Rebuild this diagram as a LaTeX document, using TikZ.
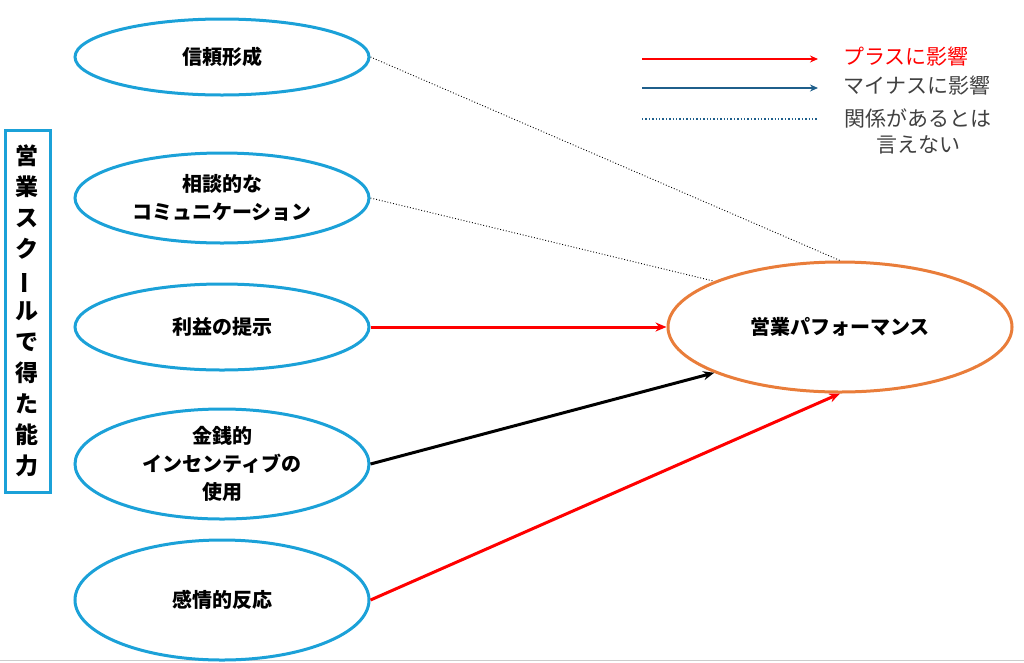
\documentclass[tikz,border=0pt]{standalone}
\usepackage{fontspec}
\setmainfont{Noto Sans CJK JP}
\usetikzlibrary{shapes.geometric,arrows.meta}
\definecolor{ebl}{HTML}{1BA1D8}
\definecolor{eor}{HTML}{E97D3A}
\definecolor{lblue}{HTML}{1F5F8B}
\tikzset{
 lel/.style={ellipse,draw=ebl,line width=3pt,minimum width=294pt,align=center,inner sep=0pt,font=\bfseries\fontsize{20}{28}\selectfont},
 dotc/.style={black,dotted,line width=0.9pt},
 redc/.style={red,line width=3pt,-{Stealth[length=11pt,width=9pt]}},
 blkc/.style={black,line width=3pt,-{Stealth[length=11pt,width=9pt]}},
 leg/.style={font=\fontsize{21}{26}\selectfont,align=center}
}
\begin{document}
\begin{tikzpicture}[x=1pt,y=-1pt]
\useasboundingbox (0,0) rectangle (1024,662);
\draw[gray!40,line width=1pt] (0,660) -- (1024,660);
\node[lel,minimum height=76pt] (a) at (222,57) {信頼形成};
\node[lel,minimum height=90pt] (b) at (222,198) {相談的な\\コミュニケーション};
\node[lel,minimum height=86pt] (c) at (222,327) {利益の提示};
\node[lel,minimum height=110pt] (d) at (222,464) {金銭的\\インセンティブの\\使用};
\node[lel,minimum height=120pt] (e) at (222,600) {感情的反応};
\node[ellipse,draw=eor,line width=3pt,minimum width=344pt,minimum height=130pt,inner sep=0pt,font=\bfseries\fontsize{20}{28}\selectfont] (r) at (840,327) {営業パフォーマンス};
\node[draw=ebl,line width=3pt,minimum width=45pt,minimum height=362pt,font=\bfseries\fontsize{23}{31}\selectfont,align=center,inner sep=0pt] (box) at (27.5,311) {営\\業\\ス\\ク\\\rotatebox[origin=c]{90}{ー}\\ル\\で\\得\\た\\能\\力};
\draw[dotc] (a.east) -- (r.north);
\draw[dotc] (b.east) -- (r.160);
\draw[redc] (c.east) -- (r.west);
\draw[blkc] (d.east) -- (r.200);
\draw[redc] (e.east) -- (r.south);
\coordinate (l1) at (642,59); \coordinate (l1e) at (818,59);
\coordinate (l2) at (642,88); \coordinate (l2e) at (818,88);
\coordinate (l3) at (642,119); \coordinate (l3e) at (818,119);
\draw[red,line width=2.5pt,-{Stealth[length=8pt,width=7pt]}] (l1) -- (l1e);
\draw[lblue,line width=1.8pt,-{Stealth[length=8pt,width=7pt]}] (l2) -- (l2e);
\draw[lblue,dotted,line width=1.4pt] (l3) -- (l3e);
\node[leg,text=red] (t1) at (906,57) {プラスに影響};
\node[leg,text=black!75] (t2) at (917,86) {マイナスに影響};
\node[leg,text=black!75] (t3) at (918,131) {関係があるとは\\言えない};
\end{tikzpicture}
\end{document}
